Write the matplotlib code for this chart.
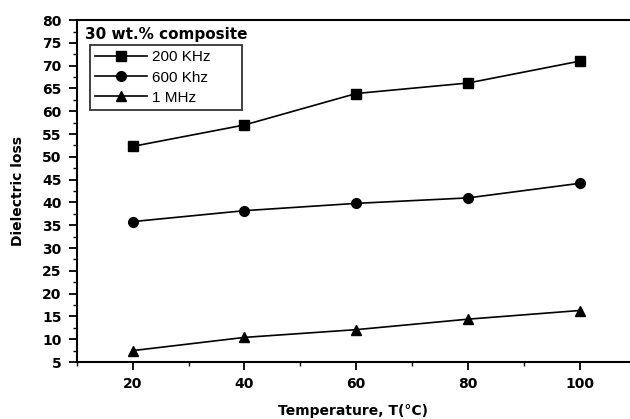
import matplotlib
matplotlib.use("Agg")
import matplotlib.pyplot as plt
from matplotlib.ticker import MultipleLocator

temperature = [20, 40, 60, 80, 100]
loss_200khz = [52.3, 57.0, 63.9, 66.2, 71.0]
loss_600khz = [35.8, 38.2, 39.8, 41.0, 44.2]
loss_1mhz = [7.5, 10.4, 12.1, 14.4, 16.3]
series_labels = ["200 KHz", "600 Khz", "1 MHz"]

plt.rcParams["font.family"] = ["Liberation Sans", "DejaVu Sans"]

fig = plt.figure(figsize=(6.3, 4.19), dpi=100)
ax = fig.add_axes([0.122, 0.136, 0.878, 0.816])

markers = ["s", "o", "^"]
for vals, lab, m in zip([loss_200khz, loss_600khz, loss_1mhz], series_labels, markers):
    ax.plot(temperature, vals, color="black", lw=1.2, marker=m, ms=7, label=lab)

ax.set_xlim(10, 109)
ax.set_ylim(5, 80)
ax.xaxis.set_major_locator(MultipleLocator(20))
ax.xaxis.set_minor_locator(MultipleLocator(10))
ax.yaxis.set_major_locator(MultipleLocator(5))
ax.yaxis.set_minor_locator(MultipleLocator(2.5))
ax.tick_params(which="major", direction="out", length=6, width=1.3, labelsize=10, pad=5)
ax.tick_params(which="minor", direction="out", length=3, width=1.0)
for lbl in ax.get_xticklabels() + ax.get_yticklabels():
    lbl.set_fontweight("bold")
    lbl.set_family("DejaVu Sans")

ax.spines["right"].set_visible(False)
for s in ["left", "bottom", "top"]:
    ax.spines[s].set_linewidth(1.5)

ax.set_xlabel("Temperature, T(°C)", fontweight="bold", fontsize=10,
              family="DejaVu Sans", labelpad=9)
ax.set_ylabel("Dielectric loss", fontweight="bold", fontsize=10,
              family="DejaVu Sans", labelpad=12)

ax.text(0.015, 0.98, "30 wt.% composite", transform=ax.transAxes,
        fontweight="bold", fontsize=11, family="DejaVu Sans", va="top", ha="left")

leg = ax.legend(loc="upper left", bbox_to_anchor=(0.0235, 0.737, 0.275, 0.19),
                mode="expand", frameon=True, fancybox=False, edgecolor="black",
                fontsize=11, handlelength=3.4, borderpad=0.35, labelspacing=0.4,
                handletextpad=0.3, borderaxespad=0)
leg.get_frame().set_linewidth(1.3)

fig.savefig("out.png", dpi=100)
